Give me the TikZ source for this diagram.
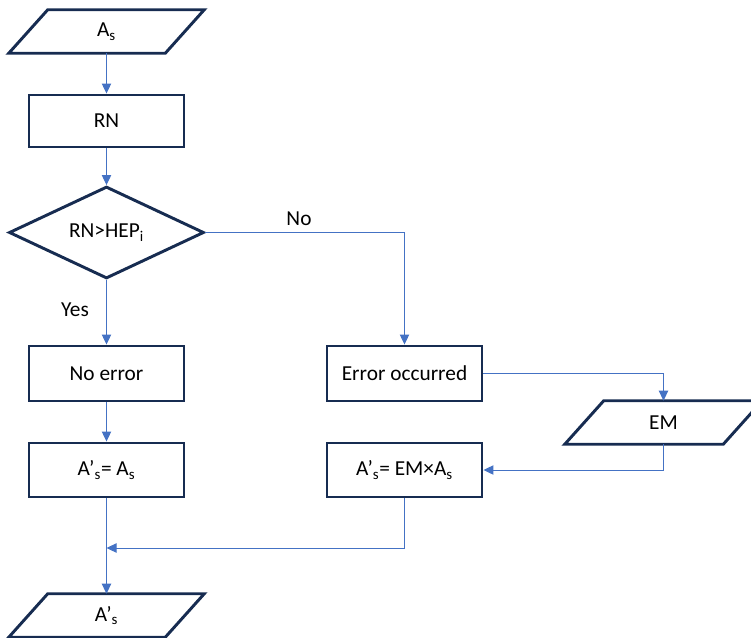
\documentclass[tikz,border=0pt]{standalone}
\usepackage{fontspec}
\setmainfont{Carlito}
\usetikzlibrary{shapes.geometric,arrows.meta}
\definecolor{outline}{HTML}{172C51}
\definecolor{link}{HTML}{4472C4}
% parallelogram (input/output) drawn around a named text node
\newcommand\drawpara[1]{%
  \draw[border] ([xshift=-14.625pt]#1.south west) -- ([xshift=-14.625pt]#1.south east)
    -- ([xshift=14.625pt]#1.north east) -- ([xshift=14.625pt]#1.north west) -- cycle;}
\tikzset{
  border/.style={draw=outline, line width=2.2pt, line join=miter},
  txt/.style={font=\fontsize{16}{19}\selectfont, inner sep=0pt, text=black},
  io/.style={txt, minimum width=156*0.75pt, minimum height=43*0.75pt},
  proc/.style={txt, border, minimum width=155*0.75pt, minimum height=52*0.75pt},
  decision/.style={txt, border, diamond, minimum width=195*0.75pt, minimum height=87*0.75pt},
  link/.style={draw=link, line width=0.75pt, -{Triangle[length=7.5pt,width=7pt]}},
  plain/.style={draw=link, line width=0.75pt},
  lbl/.style={txt}
}
\begin{document}
\begin{tikzpicture}[x=0.75pt, y=-0.75pt]
  \useasboundingbox (0,0) rectangle (751,637);
  \clip (0,0) rectangle (751,637);

  % nodes
  \node[io] (as) at (106.5,31.5) {A\textsubscript{s}};
  \drawpara{as}
  \node[proc] (rn) at (106.5,121) {RN};
  \node[decision] (dec) at (106.5,232.5) {RN>HEP\textsubscript{i}};
  \node[proc, minimum height=55*0.75pt] (noerr) at (106.5,373.5) {No error};
  \node[proc, minimum height=55*0.75pt] (erocc) at (404.5,373.5) {Error occurred};
  \node[io, minimum width=158*0.75pt] (em) at (663.5,422.5) {EM};
  \drawpara{em}
  \node[proc, minimum height=54*0.75pt] (keep) at (106.5,470) {A’\textsubscript{s}= A\textsubscript{s}};
  \node[proc, minimum height=54*0.75pt] (scale) at (404.5,470) {A’\textsubscript{s}= EM×A\textsubscript{s}};
  \node[io] (out) at (106.5,615.5) {A’\textsubscript{s}};
  \drawpara{out}

  % branch labels
  \node[lbl] (yes) at (75,310) {Yes};
  \node[lbl] (no) at (299,219) {No};

  % connectors
  \coordinate (merge) at (106.5,548);
  \draw[link] (as.south) -- (rn.north);
  \draw[link] (rn.south) -- (dec.north);
  \draw[link] (dec.south) -- (noerr.north);
  \draw[link] (dec.east) -| (erocc.north);
  \draw[link] (erocc.east) -| (em.north);
  \draw[link] (em.south) |- (scale.east);
  \draw[link] (noerr.south) -- (keep.north);
  \draw[link] (keep.south) -- (out.north);
  \draw[link] (scale.south) |- (merge);
\end{tikzpicture}
\end{document}
